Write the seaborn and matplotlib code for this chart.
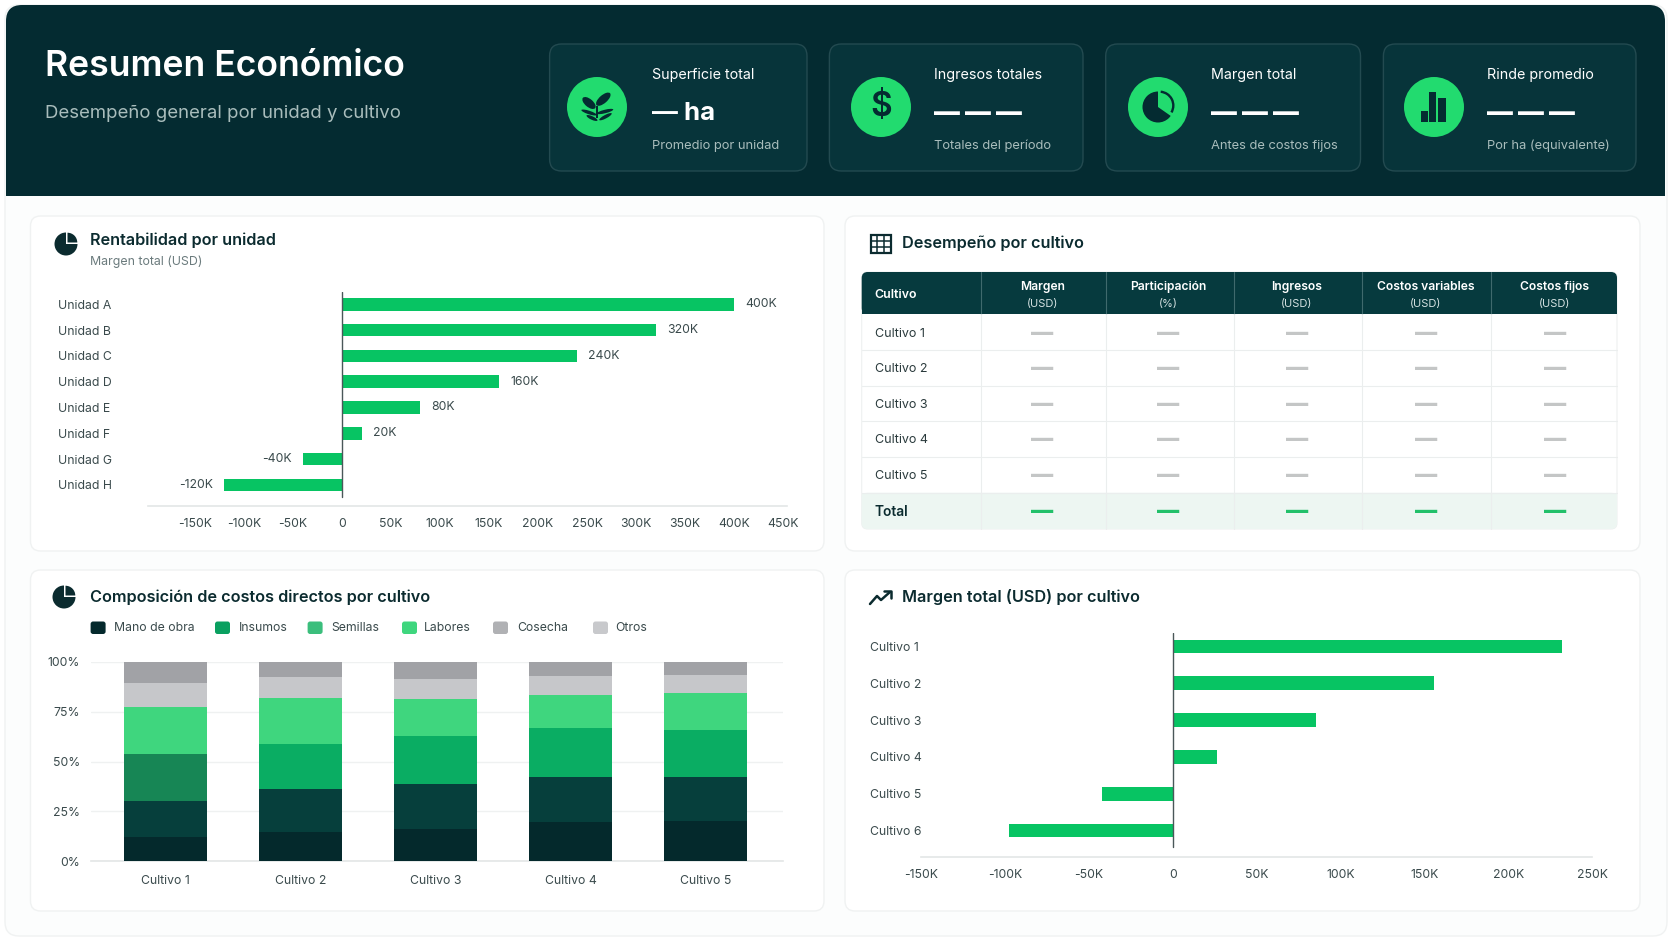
import matplotlib
matplotlib.use("Agg")
import matplotlib.pyplot as plt
from matplotlib.patches import FancyBboxPatch, Rectangle, Circle, Wedge, Ellipse
import numpy as np
import seaborn as sns

W, H = 1672, 941

# ---- data ----
unidades = ["Unidad A", "Unidad B", "Unidad C", "Unidad D", "Unidad E", "Unidad F", "Unidad G", "Unidad H"]
margen_unidad = [400, 320, 240, 160, 80, 20, -40, -120]
etiquetas_unidad = ["400K", "320K", "240K", "160K", "80K", "20K", "-40K", "-120K"]
ticks_unidad = [-150, -100, -50, 0, 50, 100, 150, 200, 250, 300, 350, 400, 450]

cultivos_margen = ["Cultivo 1", "Cultivo 2", "Cultivo 3", "Cultivo 4", "Cultivo 5", "Cultivo 6"]
margen_cultivo = [232, 156, 85.5, 26.5, -42, -97.5]
ticks_cultivo = [-150, -100, -50, 0, 50, 100, 150, 200, 250]

cultivos = ["Cultivo 1", "Cultivo 2", "Cultivo 3", "Cultivo 4", "Cultivo 5"]
rubros = ["Mano de obra", "Insumos", "Semillas", "Labores", "Cosecha", "Otros"]
mano_obra = [11.9, 14.6, 16.2, 19.4, 19.9]
insumos = [18.4, 21.6, 22.7, 22.6, 22.1]
semillas = [23.3, 22.8, 24.1, 25.0, 23.7]
labores = [23.6, 22.9, 18.2, 16.2, 18.9]
cosecha = [12.1, 10.4, 10.1, 9.8, 8.7]
otros = [10.7, 7.7, 8.7, 7.0, 6.7]
pct_ticks = [0, 25, 50, 75, 100]

colores_barra = ["#04292C", "#063F3C", "#0AAD63", "#3FD67E", "#C6C7CA", "#A1A2A6"]
colores_leyenda = ["#04292C", "#0AA060", "#3BBE7C", "#3FD67E", "#B0B1B4", "#C8C9CC"]

kpi_titulos = ["Superficie total", "Ingresos totales", "Margen total", "Rinde promedio"]
kpi_valores = ["— ha", "— — —", "— — —", "— — —"]
kpi_notas = ["Promedio por unidad", "Totales del período", "Antes de costos fijos", "Por ha (equivalente)"]

tabla_columnas = [("Margen", "(USD)"), ("Participación", "(%)"), ("Ingresos", "(USD)"),
                  ("Costos variables", "(USD)"), ("Costos fijos", "(USD)")]
tabla_filas = ["Cultivo 1", "Cultivo 2", "Cultivo 3", "Cultivo 4", "Cultivo 5"]

DARK = "#042B31"
GREEN = "#07C463"
BRIGHT = "#22DB6F"
INK = "#0B2B2F"
TICK = "#3A4A4C"
MUTED = "#A9BDBC"
TICK_SIZE = 8.8

sns.set_theme(style="white")
plt.rcParams["font.family"] = ["Inter", "DejaVu Sans"]
plt.rcParams["patch.force_edgecolor"] = False
plt.rcParams["patch.linewidth"] = 0

fig = plt.figure(figsize=(W / 100, H / 100), dpi=100, facecolor="white")

# full-figure layer in pixel coordinates for the dashboard furniture
bg = fig.add_axes([0, 0, 1, 1], zorder=0)
bg.set_xlim(0, W)
bg.set_ylim(H, 0)
bg.axis("off")


def rounded(x0, y0, x1, y1, r, fc, ec="none", lw=0, z=1):
    p = FancyBboxPatch((x0, y0), x1 - x0, y1 - y0, boxstyle=f"round,pad=0,rounding_size={r}",
                       fc=fc, ec=ec, lw=lw, zorder=z)
    bg.add_patch(p)
    return p


def rect(x, y, w, h, fc, z):
    bg.add_patch(Rectangle((x, y), w, h, fc=fc, ec="none", lw=0, zorder=z))


def panel_axes(x0, y0, x1, y1):
    ax = fig.add_axes([x0 / W, 1 - y1 / H, (x1 - x0) / W, (y1 - y0) / H], zorder=2)
    ax.patch.set_alpha(0)
    return ax


def pie_icon(cx, cy, r, fg=INK, bgc="white", z=5):
    bg.add_patch(Wedge((cx, cy), r, 0, 360, fc=fg, ec="none", zorder=z))
    rect(cx, cy - r - 1, r + 1, r + 1, bgc, z + 1)
    bg.add_patch(Wedge((cx + 1.5, cy - 1.5), r * 0.85, 270, 360, fc=fg, ec="none", zorder=z + 2))


# page and header
rounded(5, 5, 1667, 936, 14, "#FCFDFD", "#F0F2F2", 1, z=0)
rounded(6, 5, 1665, 196, 16, DARK, z=1)
rect(6, 175, 1659, 21, DARK, 1)
bg.text(45, 66.5, "Resumen Económico", color="white", fontsize=25.6, fontweight="semibold", va="center", zorder=3)
bg.text(45, 113, "Desempeño general por unidad y cultivo", color=MUTED, fontsize=13.4, va="center", zorder=3)

kpi_boxes = [(549.6, 807), (829.4, 1083), (1105.7, 1360.5), (1383.4, 1636)]
kpi_centros = [597, 881, 1158, 1434]
kpi_textos = [652, 934, 1211, 1487]
for (x0, x1), cx, tx, t, v, n in zip(kpi_boxes, kpi_centros, kpi_textos, kpi_titulos, kpi_valores, kpi_notas):
    rounded(x0, 44, x1, 171, 12, "#07343A", "#234A50", 1, z=2)
    bg.add_patch(Circle((cx, 107), 30, fc=BRIGHT, ec="none", zorder=3))
    bg.text(tx, 75, t, color="white", fontsize=10.3, va="center", zorder=4)
    peso = "bold" if v.endswith("ha") else "black"
    bg.text(tx, 113, v, color="white", fontsize=18.6, fontweight=peso, va="center", zorder=4)
    bg.text(tx, 146, n, color=MUTED, fontsize=9.3, va="center", zorder=4)

# plant glyph
for xc, yc, ew, eh, ang in [(589, 103, 16, 8, 40), (603.3, 99.2, 18, 8, -41),
                            (589, 112.5, 16, 3.5, 18), (592, 118, 12, 3.5, 25),
                            (605, 111.5, 17, 3.5, -14), (605.5, 116.7, 14, 3.5, -28)]:
    bg.add_patch(Ellipse((xc, yc), ew, eh, angle=ang, fc=DARK, ec="none", zorder=5))
rect(596.2, 106, 1.6, 12, DARK, 5)
# dollar glyph
bg.text(881, 107, "$", color=DARK, fontsize=24, fontweight="semibold", ha="center", va="center", zorder=5)
# pie glyph with its slice pulled out in outline (y grows downwards on this layer)
bg.add_patch(Circle((1158, 107), 15.5, fc=DARK, ec="none", zorder=5))
bg.add_patch(Wedge((1158, 107), 17, -90, 35, fc=BRIGHT, ec="none", zorder=6))
bg.add_patch(Wedge((1159.5, 105.5), 15, -85, 30, width=2.4, fc=DARK, ec="none", zorder=7))
# bars glyph
for xb, yt, wb in [(1421, 111, 7), (1429, 92, 7), (1438, 98, 8)]:
    rect(xb, yt, wb, 122 - yt, DARK, 5)

# cards
card_boxes = [(30.5, 216, 824, 551), (845, 216, 1640, 551), (30.5, 570, 824, 911), (845, 570, 1640, 911)]
for b in card_boxes:
    rounded(*b, 10, "white", "#F0F2F2", 1, z=1)

titulo = dict(color=INK, fontsize=11.7, fontweight="semibold", va="center", zorder=4)
bg.text(90, 240, "Rentabilidad por unidad", **titulo)
bg.text(90, 262, "Margen total (USD)", color="#6B7B7D", fontsize=8.9, va="center", zorder=4)
bg.text(901.5, 243.5, "Desempeño por cultivo", **titulo)
bg.text(90, 597, "Composición de costos directos por cultivo", **titulo)
bg.text(901.5, 597, "Margen total (USD) por cultivo", **titulo)
pie_icon(66, 244, 11.5)
pie_icon(64, 597, 11.5)

# grid icon beside the table title
bg.add_patch(Rectangle((870.5, 234.5), 20, 18, fc="none", ec=INK, lw=1.6, zorder=4))
for xi in (877, 884):
    bg.plot([xi, xi], [234.5, 252.5], color=INK, lw=1.1, zorder=4)
for yi in (240.5, 246.5):
    bg.plot([870.5, 890.5], [yi, yi], color=INK, lw=1.1, zorder=4)
# trend icon beside the crop margin title
bg.plot([870, 877, 881, 890], [604, 596, 600, 592], color=INK, lw=1.8, zorder=4, solid_capstyle="round")
bg.plot([884, 891, 891], [591, 591, 598], color=INK, lw=1.8, zorder=4, solid_capstyle="round")

# table
col_lines = [980.5, 1106, 1233.6, 1361.7, 1490.8]
col_centres = [1042.5, 1168.5, 1297, 1426, 1555]
row_lines = [350, 385.7, 421.3, 456.7, 492.7]
row_centres = [334, 369.3, 404.7, 440, 476]
rounded(861.7, 272, 1617, 529, 6, "white", "#EEF0F0", 0.8, z=2)
rounded(861.7, 272, 1617, 314, 6, "#063A3E", z=3)
rect(861.7, 304, 755.3, 10, "#063A3E", 3)
rounded(861.7, 492.7, 1617, 529, 6, "#EDF6F2", z=3)
rect(861.7, 492.7, 755.3, 10, "#EDF6F2", 3)
for x in col_lines:
    bg.plot([x, x], [272, 314], color="#3F6A6D", lw=0.8, zorder=4)
    bg.plot([x, x], [314, 529], color="#EBEEEE", lw=0.8, zorder=4)
for y in row_lines:
    bg.plot([861.7, 1617], [y, y], color="#EBEEEE", lw=0.8, zorder=4)
bg.text(874.6, 294.5, "Cultivo", color="white", fontsize=8.9, fontweight="semibold", va="center", zorder=5)
for cx, (a, b) in zip(col_centres, tabla_columnas):
    bg.text(cx, 287, a, color="white", fontsize=8.7, fontweight="semibold", ha="center", va="center", zorder=5)
    bg.text(cx, 303.5, b, color="#D5E2E2", fontsize=8, ha="center", va="center", zorder=5)
for y, fila in zip(row_centres, tabla_filas):
    bg.text(874.6, y, fila, color="#2A3A3C", fontsize=9, va="center", zorder=5)
    for cx in col_centres:
        bg.text(cx, y, "—", color="#C4C6C6", fontsize=16, fontweight="black", ha="center", va="center", zorder=5)
bg.text(874.6, 512, "Total", color=INK, fontsize=9.9, fontweight="semibold", va="center", zorder=5)
for cx in col_centres:
    bg.text(cx, 512, "—", color="#22C06A", fontsize=16, fontweight="black", ha="center", va="center", zorder=5)

# legend swatches and names for the stacked chart
ley_sw = [90.6, 215, 307.6, 402, 493, 593]
ley_tx = [114, 238.6, 331, 424, 517, 615]
for sx, tx, c, nombre in zip(ley_sw, ley_tx, colores_leyenda, rubros):
    rounded(sx, 621.5, sx + 15, 634, 2.5, c, z=3)
    bg.text(tx, 628, nombre, color=TICK, fontsize=8.8, va="center", zorder=4)


def style_hbar(ax, xlim, top, bottom, y0_px, step, x_ticks, left_px, label_left, baseline_end):
    ax.set_xticks(x_ticks)
    ax.set_xticklabels(["0" if t == 0 else f"{t}K" for t in x_ticks])
    ax.set_xlim(*xlim)
    ax.set_ylim((bottom - y0_px) / step, (top - y0_px) / step)
    ax.set_xlabel("")
    ax.set_ylabel("")
    sns.despine(ax=ax, left=True)
    ax.spines["bottom"].set_color("#E3E6E6")
    ax.spines["bottom"].set_linewidth(1.2)
    ax.tick_params(axis="x", length=0, pad=8.5, labelsize=TICK_SIZE, labelcolor=TICK)
    ax.tick_params(axis="y", length=0, pad=(left_px - label_left) * 0.72, labelsize=TICK_SIZE, labelcolor=TICK)
    for lab in ax.get_yticklabels():
        lab.set_ha("left")
    ax.axvline(0, ymin=(bottom - baseline_end) / (bottom - top), ymax=1, color="#4A5759", lw=1, zorder=4)
    ax.grid(False)


# profitability by unit
ax1 = panel_axes(148, 292, 787, 506)
sns.barplot(x=margen_unidad, y=unidades, orient="h", color=GREEN, saturation=1, width=0.485, linewidth=0, ax=ax1)
style_hbar(ax1, (-198, 454), 292, 506, 304.3, 25.8, ticks_unidad, 148, 57.7, 497)
ax1.bar_label(ax1.containers[0], labels=etiquetas_unidad, padding=8, fontsize=TICK_SIZE, color=TICK)

# margin by crop
ax4 = panel_axes(921, 633, 1592, 857)
sns.barplot(x=margen_cultivo, y=cultivos_margen, orient="h", color=GREEN, saturation=1, width=0.37, linewidth=0, ax=ax4)
style_hbar(ax4, (-150, 250), 633, 857, 646.5, 36.8, ticks_cultivo, 921, 870, 847)

# direct cost composition, one stacked layer per cost item
ax3 = panel_axes(90.6, 662, 782.5, 861)
base = np.zeros(len(cultivos))
for serie, color in zip([mano_obra, insumos, semillas, labores, cosecha, otros], colores_barra):
    sns.barplot(x=cultivos, y=serie, bottom=base, color=color, saturation=1, width=0.62, linewidth=0, ax=ax3, zorder=3)
    base = base + np.array(serie)
# the first crop's third layer is a darker, duller green
ax3.patches[10].set_facecolor("#178655")
ax3.set_xlim(-0.555, 4.57)
ax3.set_ylim(0, 100)
ax3.set_yticks(pct_ticks)
ax3.set_yticklabels([f"{p}%" for p in pct_ticks])
sns.despine(ax=ax3, left=True)
ax3.spines["bottom"].set_color("#E3E6E6")
ax3.spines["bottom"].set_linewidth(1.2)
ax3.grid(axis="y", color="#EFF1F1", lw=1)
ax3.set_axisbelow(True)
ax3.tick_params(axis="x", length=0, pad=10, labelsize=TICK_SIZE, labelcolor=TICK)
ax3.tick_params(axis="y", length=0, pad=7.5, labelsize=TICK_SIZE, labelcolor=TICK)

fig.savefig("out.png", dpi=100)
